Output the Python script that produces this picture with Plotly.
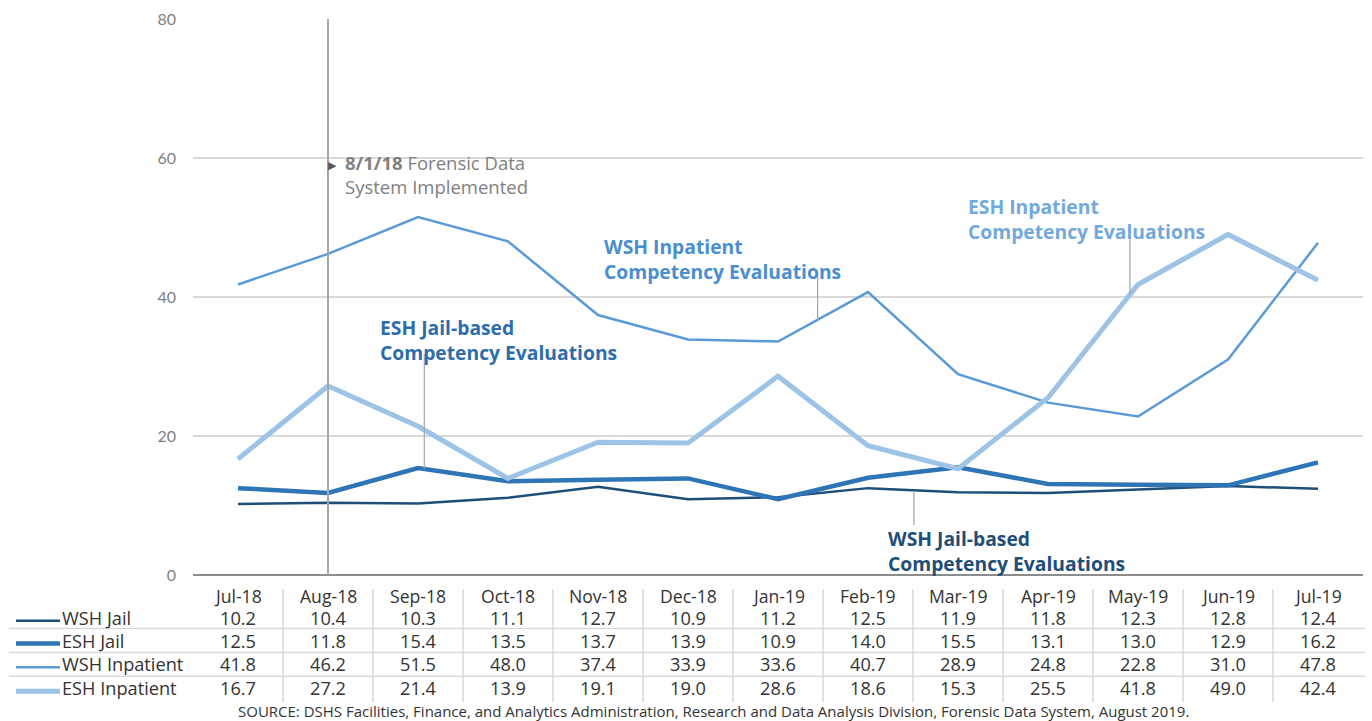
import plotly.graph_objects as go

# data
months = ["Jul-18", "Aug-18", "Sep-18", "Oct-18", "Nov-18", "Dec-18", "Jan-19",
          "Feb-19", "Mar-19", "Apr-19", "May-19", "Jun-19", "Jul-19"]
wsh_jail = [10.2, 10.4, 10.3, 11.1, 12.7, 10.9, 11.2, 12.5, 11.9, 11.8, 12.3, 12.8, 12.4]
esh_jail = [12.5, 11.8, 15.4, 13.5, 13.7, 13.9, 10.9, 14.0, 15.5, 13.1, 13.0, 12.9, 16.2]
wsh_inpatient = [41.8, 46.2, 51.5, 48.0, 37.4, 33.9, 33.6, 40.7, 28.9, 24.8, 22.8, 31.0, 47.8]
esh_inpatient = [16.7, 27.2, 21.4, 13.9, 19.1, 19.0, 28.6, 18.6, 15.3, 25.5, 41.8, 49.0, 42.4]
series_names = ["WSH Jail", "ESH Jail", "WSH Inpatient", "ESH Inpatient"]
event_month = "Aug-18"
y_ticks = [0, 20, 40, 60, 80]

W, H = 1372, 721
L, R, T, B = 193, 9, 15, 146
PW, PH = W - L - R, H - T - B


def px(x):
    return (x - L) / PW


def py(y):
    return (H - B - y) / PH


FONT = "Open Sans"
TXT = "#333333"
colors = ["#1F4E79", "#2E75B6", "#5B9BD5", "#9DC3E6"]
widths = [2.5, 4.5, 2.5, 5]
series = [wsh_jail, esh_jail, wsh_inpatient, esh_inpatient]

fig = go.Figure()
for name, vals, c, w in zip(series_names, series, colors, widths):
    fig.add_trace(go.Scatter(x=months, y=vals, mode="lines", name=name,
                             line=dict(color=c, width=w)))

# event line
ev = months.index(event_month)
fig.add_shape(type="line", xref="x", yref="y", x0=ev, x1=ev, y0=0, y1=80,
              line=dict(color="#A6A6A6", width=2))
fig.add_annotation(xref="x", yref="y", x=ev + 0.05, y=58.9, text="▶", showarrow=False,
                   font=dict(size=11, color="#595959", family="DejaVu Sans"))
fig.add_annotation(xref="x", yref="y", x=ev + 0.17, y=61.4, xanchor="left", yanchor="top",
                   align="left", showarrow=False,
                   text="<b>8/1/18</b> Forensic Data<br>System Implemented",
                   font=dict(size=18.5, color="#808080", family=FONT))

# series callouts
callouts = [
    ("ESH Jail-based<br>Competency Evaluations", 1.556, 37.9, "#2E6DAA", (2.07, 31.8, 15.3)),
    ("WSH Inpatient<br>Competency Evaluations", 4.04, 49.5, "#4A8ECF", (6.44, 43.3, 36.7)),
    ("ESH Inpatient<br>Competency Evaluations", 8.09, 55.2, "#72A9DD", (9.91, 48.7, 40.5)),
    ("WSH Jail-based<br>Competency Evaluations", 7.2, 7.5, "#1F4E79", (7.51, 12.1, 7.2)),
]
for text, x, y, c, (lx, ly0, ly1) in callouts:
    fig.add_annotation(xref="x", yref="y", x=x, y=y, xanchor="left", yanchor="top",
                       align="left", showarrow=False, text=f"<b>{text}</b>",
                       font=dict(size=19.3, color=c, family=FONT))
    fig.add_shape(type="line", xref="x", yref="y", x0=lx, x1=lx, y0=ly0, y1=ly1,
                  line=dict(color="#A6A6A6", width=1.2))

# data table under the chart
row_y = [596, 618, 641, 665, 689]
cell_font = dict(size=18.2, color=TXT, family=FONT)
for i, m in enumerate(months):
    fig.add_annotation(xref="x", yref="paper", x=i, y=py(row_y[0]), text=m,
                       xanchor="center", yanchor="middle", showarrow=False,
                       font=dict(size=17.6, color=TXT, family=FONT))
    for r, vals in enumerate(series):
        fig.add_annotation(xref="x", yref="paper", x=i, y=py(row_y[r + 1]),
                           text=f"{vals[i]:.1f}", xanchor="center", yanchor="middle",
                           showarrow=False, font=cell_font)
    if i < len(months) - 1:
        fig.add_shape(type="line", xref="x", yref="paper", x0=i + 0.5, x1=i + 0.5,
                      y0=py(589), y1=py(703), line=dict(color="#D9D9D9", width=1.5))

for r, name in enumerate(series_names):
    yy = py(row_y[r + 1])
    fig.add_annotation(xref="paper", yref="paper", x=px(60), y=yy, xanchor="left",
                       yanchor="middle", text=name, showarrow=False, font=cell_font)
    fig.add_shape(type="line", xref="paper", yref="paper", x0=px(16), x1=px(60),
                  y0=py(row_y[r + 1] + 3), y1=py(row_y[r + 1] + 3),
                  line=dict(color=colors[r], width=widths[r]))
for yl in [629, 653, 677]:
    fig.add_shape(type="line", xref="paper", yref="paper", x0=px(9), x1=px(1365),
                  y0=py(yl), y1=py(yl), line=dict(color="#D9D9D9", width=1.5))

fig.add_annotation(xref="paper", yref="paper", x=px(713), y=py(712), showarrow=False,
                   xanchor="center", yanchor="middle",
                   text="SOURCE: DSHS Facilities, Finance, and Analytics Administration, "
                        "Research and Data Analysis Division, Forensic Data System, August 2019.",
                   font=dict(size=15, color=TXT, family=FONT))

fig.update_layout(
    width=W, height=H,
    margin=dict(l=L, r=R, t=T, b=B),
    paper_bgcolor="white", plot_bgcolor="white",
    showlegend=False,
    xaxis=dict(showticklabels=False, showgrid=False, zeroline=False, ticks="",
               range=[-0.5, len(months) - 0.5]),
    yaxis=dict(range=[0, 80], tickvals=y_ticks, showgrid=True, gridcolor="#D9D9D9",
               gridwidth=1.5, zeroline=True, zerolinecolor="#8C8C8C", zerolinewidth=1.5,
               tickfont=dict(size=16, color="#7F7F7F", family="Lato"), ticks="",
               ticklabelstandoff=16),
)
fig.write_html("out.html", config={"displayModeBar": False},
               post_script="document.body.style.margin='0';")
